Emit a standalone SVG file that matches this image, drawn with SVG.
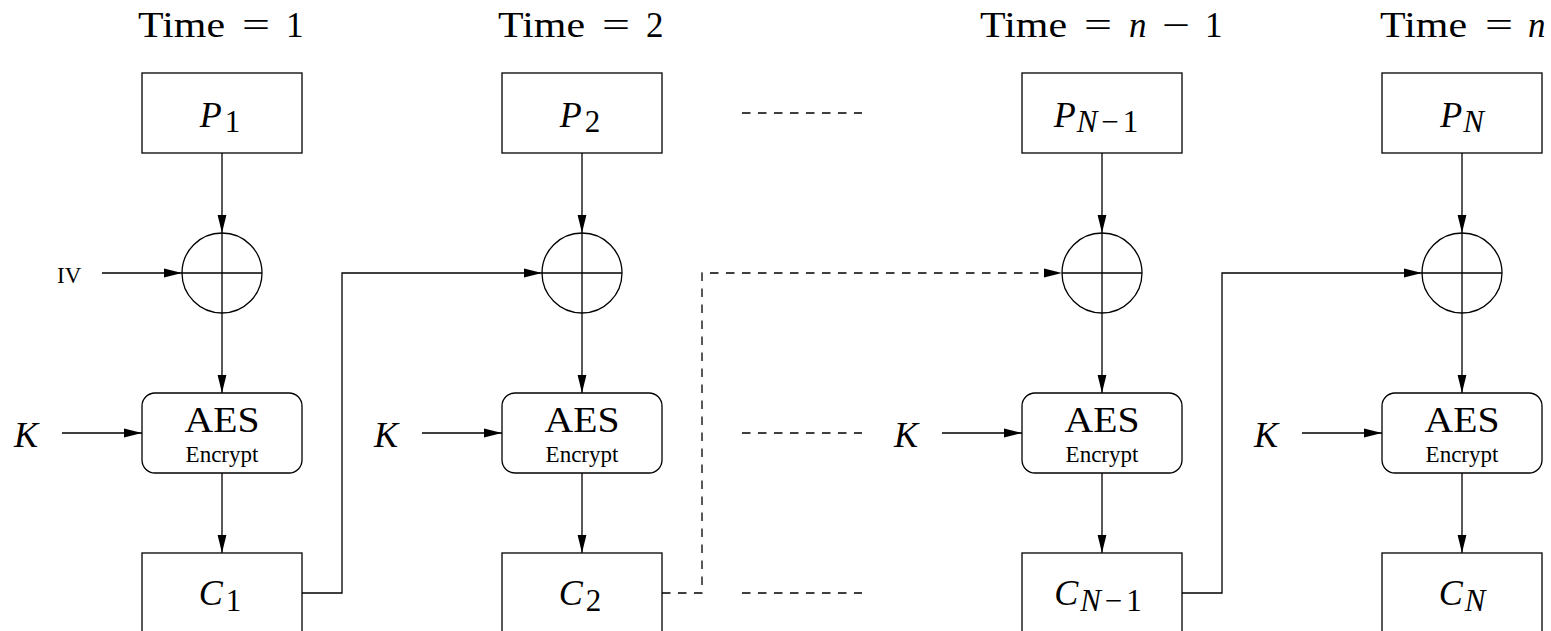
<svg xmlns="http://www.w3.org/2000/svg" width="1551" height="631" viewBox="0 0 1551 631">
  <style>
    .box { fill: #fff; stroke: #000; stroke-width: 1.3; }
    .ln { fill: none; stroke: #000; stroke-width: 1.3; }
    .dash { fill: none; stroke: #000; stroke-width: 1.3; stroke-dasharray: 8.5 7.5; }
    .rm { font-family: "Liberation Serif", "Times New Roman", serif; font-style: normal; fill: #000; }
    .it { font-family: "Liberation Serif", "Times New Roman", serif; font-style: italic; fill: #000; }
    .ttl { font-size: 35px; }
    .lbl { font-size: 36px; }
    .sub { font-size: 31px; }
    .small { font-size: 23px; }
  </style>
  <defs>
    <marker id="arr" markerWidth="18" markerHeight="10" refX="18" refY="5" orient="auto" markerUnits="userSpaceOnUse">
      <path d="M0,0.6 L18,5 L0,9.4 z" fill="#000"/>
    </marker>
  </defs>
  <rect width="1551" height="631" fill="#fff"/>

  <!-- time step headings -->
  <g id="titles">
    <text class="rm ttl" x="138" y="37" textLength="87" lengthAdjust="spacingAndGlyphs">Time</text>
    <text class="rm ttl" x="242" y="37" textLength="28" lengthAdjust="spacingAndGlyphs">=</text>
    <text class="rm ttl" x="286" y="37">1</text>

    <text class="rm ttl" x="498" y="37" textLength="87" lengthAdjust="spacingAndGlyphs">Time</text>
    <text class="rm ttl" x="602" y="37" textLength="28" lengthAdjust="spacingAndGlyphs">=</text>
    <text class="rm ttl" x="646" y="37">2</text>

    <text class="rm ttl" x="980" y="37" textLength="87" lengthAdjust="spacingAndGlyphs">Time</text>
    <text class="rm ttl" x="1084" y="37" textLength="28" lengthAdjust="spacingAndGlyphs">=</text>
    <text class="it ttl" x="1129" y="37">n</text>
    <text class="rm ttl" x="1162" y="37" textLength="28" lengthAdjust="spacingAndGlyphs">−</text>
    <text class="rm ttl" x="1205" y="37">1</text>

    <text class="rm ttl" x="1380" y="37" textLength="87" lengthAdjust="spacingAndGlyphs">Time</text>
    <text class="rm ttl" x="1485" y="37" textLength="28" lengthAdjust="spacingAndGlyphs">=</text>
    <text class="it ttl" x="1528" y="37">n</text>
  </g>

  <!-- plaintext blocks -->
  <g id="p1">
    <rect class="box" x="142" y="73" width="160" height="80"/>
    <text class="it lbl" x="220" y="127" text-anchor="middle">P<tspan class="rm sub" dx="3" dy="5">1</tspan></text>
  </g>
  <g id="p2">
    <rect class="box" x="502" y="73" width="160" height="80"/>
    <text class="it lbl" x="580" y="127" text-anchor="middle">P<tspan class="rm sub" dx="3" dy="5">2</tspan></text>
  </g>
  <g id="pn1">
    <rect class="box" x="1022" y="73" width="160" height="80"/>
    <text class="it lbl" x="1096" y="127" text-anchor="middle">P<tspan class="it sub" dx="1" dy="5">N</tspan><tspan class="rm sub" dx="4">−</tspan><tspan class="rm sub" dx="4">1</tspan></text>
  </g>
  <g id="pn">
    <rect class="box" x="1382" y="73" width="160" height="80"/>
    <text class="it lbl" x="1462" y="127" text-anchor="middle">P<tspan class="it sub" dx="1" dy="5">N</tspan></text>
  </g>

  <!-- XOR junctions -->
  <g id="x1">
    <circle class="ln" cx="222" cy="273" r="40"/>
    <path class="ln" d="M182,273 H262 M222,233 V313"/>
  </g>
  <g id="x2">
    <circle class="ln" cx="582" cy="273" r="40"/>
    <path class="ln" d="M542,273 H622 M582,233 V313"/>
  </g>
  <g id="xn1">
    <circle class="ln" cx="1102" cy="273" r="40"/>
    <path class="ln" d="M1062,273 H1142 M1102,233 V313"/>
  </g>
  <g id="xn">
    <circle class="ln" cx="1462" cy="273" r="40"/>
    <path class="ln" d="M1422,273 H1502 M1462,233 V313"/>
  </g>

  <!-- IV input -->
  <g id="iv">
    <text class="rm small" x="57" y="283">IV</text>
  </g>

  <!-- cipher blocks -->
  <g id="aes1">
    <rect class="box" x="142" y="393" width="160" height="80" rx="13"/>
    <text class="rm" font-size="35" x="222" y="432" text-anchor="middle" textLength="75" lengthAdjust="spacingAndGlyphs">AES</text>
    <text class="rm small" x="222" y="462" text-anchor="middle">Encrypt</text>
  </g>
  <g id="aes2">
    <rect class="box" x="502" y="393" width="160" height="80" rx="13"/>
    <text class="rm" font-size="35" x="582" y="432" text-anchor="middle" textLength="75" lengthAdjust="spacingAndGlyphs">AES</text>
    <text class="rm small" x="582" y="462" text-anchor="middle">Encrypt</text>
  </g>
  <g id="aesn1">
    <rect class="box" x="1022" y="393" width="160" height="80" rx="13"/>
    <text class="rm" font-size="35" x="1102" y="432" text-anchor="middle" textLength="75" lengthAdjust="spacingAndGlyphs">AES</text>
    <text class="rm small" x="1102" y="462" text-anchor="middle">Encrypt</text>
  </g>
  <g id="aesn">
    <rect class="box" x="1382" y="393" width="160" height="80" rx="13"/>
    <text class="rm" font-size="35" x="1462" y="432" text-anchor="middle" textLength="75" lengthAdjust="spacingAndGlyphs">AES</text>
    <text class="rm small" x="1462" y="462" text-anchor="middle">Encrypt</text>
  </g>

  <!-- key inputs -->
  <g id="k1"><text class="it lbl" x="14" y="447">K</text></g>
  <g id="k2"><text class="it lbl" x="374" y="447">K</text></g>
  <g id="kn1"><text class="it lbl" x="894" y="447">K</text></g>
  <g id="kn"><text class="it lbl" x="1254" y="447">K</text></g>

  <!-- ciphertext blocks -->
  <g id="c1">
    <rect class="box" x="142" y="553" width="160" height="80"/>
    <text class="it lbl" x="220" y="605" text-anchor="middle">C<tspan class="rm sub" dx="3" dy="6">1</tspan></text>
  </g>
  <g id="c2">
    <rect class="box" x="502" y="553" width="160" height="80"/>
    <text class="it lbl" x="580" y="605" text-anchor="middle">C<tspan class="rm sub" dx="3" dy="6">2</tspan></text>
  </g>
  <g id="cn1">
    <rect class="box" x="1022" y="553" width="160" height="80"/>
    <text class="it lbl" x="1098" y="605" text-anchor="middle">C<tspan class="it sub" dx="2" dy="6">N</tspan><tspan class="rm sub" dx="4">−</tspan><tspan class="rm sub" dx="4">1</tspan></text>
  </g>
  <g id="cn">
    <rect class="box" x="1382" y="553" width="160" height="80"/>
    <text class="it lbl" x="1462" y="605" text-anchor="middle">C<tspan class="it sub" dx="2" dy="6">N</tspan></text>
  </g>

  <!-- connectors -->
  <g id="connectors">
    <!-- vertical flow in each column -->
    <path class="ln" d="M222,153 V233" marker-end="url(#arr)"/>
    <path class="ln" d="M222,313 V393" marker-end="url(#arr)"/>
    <path class="ln" d="M222,473 V553" marker-end="url(#arr)"/>
    <path class="ln" d="M582,153 V233" marker-end="url(#arr)"/>
    <path class="ln" d="M582,313 V393" marker-end="url(#arr)"/>
    <path class="ln" d="M582,473 V553" marker-end="url(#arr)"/>
    <path class="ln" d="M1102,153 V233" marker-end="url(#arr)"/>
    <path class="ln" d="M1102,313 V393" marker-end="url(#arr)"/>
    <path class="ln" d="M1102,473 V553" marker-end="url(#arr)"/>
    <path class="ln" d="M1462,153 V233" marker-end="url(#arr)"/>
    <path class="ln" d="M1462,313 V393" marker-end="url(#arr)"/>
    <path class="ln" d="M1462,473 V553" marker-end="url(#arr)"/>

    <!-- key arrows -->
    <path class="ln" d="M62,433 H142" marker-end="url(#arr)"/>
    <path class="ln" d="M422,433 H502" marker-end="url(#arr)"/>
    <path class="ln" d="M942,433 H1022" marker-end="url(#arr)"/>
    <path class="ln" d="M1302,433 H1382" marker-end="url(#arr)"/>

    <!-- IV arrow -->
    <path class="ln" d="M102,273 H182" marker-end="url(#arr)"/>

    <!-- chaining feedback -->
    <path class="ln" d="M302,593 H342 V273 H542" marker-end="url(#arr)"/>
    <path class="dash" d="M662,593 H702 V273 H1062" marker-end="url(#arr)"/>
    <path class="ln" d="M1182,593 H1222 V273 H1422" marker-end="url(#arr)"/>

    <!-- elided steps -->
    <path class="dash" d="M742,113 H862"/>
    <path class="dash" d="M742,433 H862"/>
    <path class="dash" d="M742,593 H862"/>
  </g>
</svg>
